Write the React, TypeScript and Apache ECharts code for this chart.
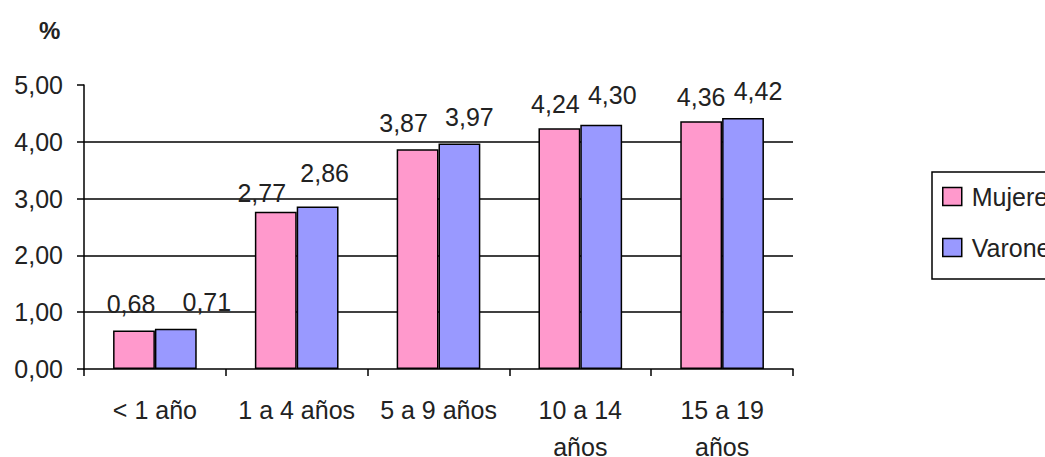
import React, { useEffect, useRef } from "react";
import * as echarts from "echarts";

const categories = ["< 1 año", "1 a 4 años", "5 a 9 años", "10 a 14\naños", "15 a 19\naños"];
const mujeres = [0.68, 2.77, 3.87, 4.24, 4.36];
const varones = [0.71, 2.86, 3.97, 4.3, 4.42];
const seriesNames = ["Mujeres", "Varones"];
const yTicks = { min: 0, max: 5, interval: 1 };

// label nudges (style only), as placed in the reference
const mujeresLabelShift = [[-3, 0], [-14, 8], [-14, 0], [-4, 2], [0, 2]];
const varonesLabelShift = [[31, 0], [7, -7], [10, 0], [11, -3], [15, 0]];

const FONT = "'Liberation Sans', Arial, sans-serif";
const fmt = (v: number) => v.toFixed(2).replace(".", ",");

export default function App() {
  const ref = useRef<HTMLDivElement>(null);
  useEffect(() => {
    document.body.style.margin = "0";
    const chart = echarts.init(ref.current!, null, { renderer: "svg" });
    const label = {
      show: true,
      position: "top" as const,
      distance: 14,
      color: "#222",
      fontSize: 25,
      fontFamily: FONT,
      formatter: (p: any) => fmt(p.value),
    };
    const withShift = (vals: number[], shifts: number[][]) =>
      vals.map((v, i) => ({ value: v, label: { offset: shifts[i] } }));
    chart.setOption({
      animation: false,
      textStyle: { fontFamily: FONT },
      grid: { left: 84, right: 252, top: 85, bottom: 88, outerBoundsMode: "none" },
      graphic: [
        {
          type: "text",
          left: 39,
          top: 18,
          style: { text: "%", fontSize: 24, fontWeight: "bold", fontFamily: FONT, fill: "#222" },
        },
      ],
      legend: {
        orient: "vertical",
        left: 932,
        top: 172,
        padding: [12, 80, 19, 10],
        itemGap: 26,
        itemWidth: 19,
        itemHeight: 18,
        borderColor: "#000",
        borderWidth: 1.5,
        borderRadius: 0,
        icon: "rect",
        textStyle: { fontSize: 25, color: "#222", fontFamily: FONT, padding: [0, 0, 0, 5] },
        itemStyle: { borderColor: "#000", borderWidth: 1.5 },
        data: seriesNames,
      },
      xAxis: {
        type: "category",
        data: categories,
        axisLine: { lineStyle: { color: "#000", width: 1.5 } },
        axisTick: { show: true, length: 7, lineStyle: { color: "#000", width: 1.5 } },
        axisLabel: { interval: 0, color: "#222", fontSize: 25, margin: 22, lineHeight: 37, fontFamily: FONT },
      },
      yAxis: {
        type: "value",
        min: yTicks.min,
        max: yTicks.max,
        interval: yTicks.interval,
        axisLine: { show: true, lineStyle: { color: "#000", width: 1.5 } },
        axisTick: { show: true, length: 7, lineStyle: { color: "#000", width: 1.5 } },
        axisLabel: { color: "#222", fontSize: 25, margin: 21, fontFamily: FONT, formatter: (v: number) => fmt(v) },
        splitLine: {
          show: true,
          lineStyle: { color: "#000", width: 1.5 },
          showMinLine: false,
          showMaxLine: false,
        },
      },
      series: [
        {
          name: seriesNames[0],
          type: "bar",
          data: withShift(mujeres, mujeresLabelShift),
          barGap: "0%",
          barCategoryGap: "41%",
          itemStyle: { color: "#FF99CC", borderColor: "#000", borderWidth: 1.5 },
          label,
        },
        {
          name: seriesNames[1],
          type: "bar",
          data: withShift(varones, varonesLabelShift),
          itemStyle: { color: "#9999FF", borderColor: "#000", borderWidth: 1.5 },
          label,
        },
      ],
    });
    return () => chart.dispose();
  }, []);
  return <div ref={ref} style={{ width: 1045, height: 457 }} />;
}
